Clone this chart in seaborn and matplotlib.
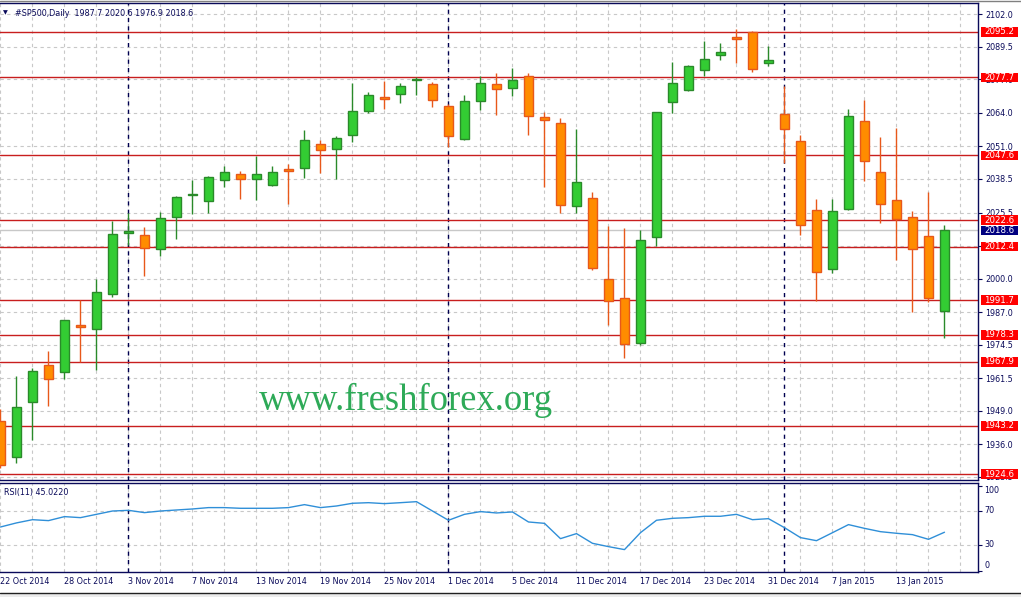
import numpy as np
import pandas as pd
import matplotlib
matplotlib.use('Agg')
import matplotlib.pyplot as plt
import matplotlib.transforms as mtransforms
from matplotlib.patches import Rectangle
from matplotlib.lines import Line2D
import seaborn as sns

# ---------------- data ----------------
symbol = "#SP500,Daily"
opens = [1944.9, 1931.1, 1952.3, 1966.6, 1963.9, 1982.2, 1980.5, 1994.0, 2017.5, 2016.7,
         2011.3, 2023.7, 2032.2, 2030.1, 2038.0, 2040.3, 2038.3, 2036.3, 2042.3, 2042.6,
         2051.9, 2049.9, 2055.3, 2064.8, 2070.1, 2071.2, 2076.8, 2075.1, 2066.5, 2053.8,
         2068.4, 2075.0, 2073.5, 2078.1, 2062.3, 2060.0, 2027.9, 2031.0, 1999.8, 1992.4,
         1975.1, 2016.0, 2068.1, 2072.9, 2080.4, 2086.2, 2093.1, 2095.1, 2083.3, 2063.4,
         2053.0, 2026.4, 2003.6, 2027.0, 2060.7, 2041.0, 2030.2, 2023.7, 2016.3, 1987.7]
highs = [1949.6, 1962.4, 1965.4, 1972.1, 1984.2, 1991.6, 1999.8, 2022.4, 2025.5, 2019.9,
         2025.7, 2031.9, 2038.1, 2039.6, 2043.5, 2041.5, 2047.5, 2043.4, 2044.1, 2057.4,
         2053.5, 2055.1, 2075.5, 2072.0, 2076.3, 2075.6, 2077.7, 2075.8, 2067.4, 2070.9,
         2078.2, 2079.5, 2081.3, 2079.4, 2064.2, 2061.9, 2057.8, 2033.4, 2020.3, 2019.6,
         2018.8, 2064.2, 2083.6, 2082.4, 2091.7, 2090.9, 2096.2, 2095.6, 2089.8, 2074.5,
         2055.4, 2030.7, 2030.7, 2065.6, 2069.0, 2054.7, 2058.3, 2026.1, 2033.4, 2020.6]
lows = [1926.9, 1928.7, 1937.8, 1951.0, 1961.3, 1967.7, 1964.9, 1992.8, 2013.0, 2001.1,
        2008.9, 2015.4, 2025.1, 2025.5, 2035.5, 2030.9, 2030.5, 2035.9, 2028.8, 2039.0,
        2040.8, 2038.6, 2052.9, 2063.9, 2065.5, 2067.9, 2070.9, 2066.4, 2050.9, 2053.4,
        2065.1, 2063.3, 2070.6, 2055.6, 2035.3, 2025.2, 2025.2, 2003.2, 1982.2, 1969.5,
        1974.3, 2012.5, 2064.0, 2072.5, 2078.3, 2084.5, 2083.3, 2079.9, 2082.2, 2044.5,
        2016.8, 1991.5, 2002.3, 2026.6, 2037.8, 2021.6, 2007.3, 1987.1, 1991.1, 1976.9]
closes = [1928.1, 1950.4, 1964.2, 1961.4, 1983.9, 1981.5, 1994.7, 2017.1, 2018.3, 2011.7,
          2023.3, 2031.4, 2032.7, 2039.1, 2041.0, 2038.6, 2040.3, 2041.0, 2041.7, 2053.4,
          2049.5, 2054.2, 2064.6, 2070.8, 2069.5, 2074.4, 2077.1, 2068.8, 2054.9, 2068.4,
          2075.4, 2073.1, 2076.6, 2062.7, 2061.1, 2028.3, 2037.2, 2004.0, 1991.3, 1974.8,
          2014.8, 2064.2, 2075.4, 2082.0, 2084.7, 2087.4, 2092.4, 2081.0, 2084.3, 2057.6,
          2020.6, 2002.5, 2026.0, 2062.7, 2045.3, 2028.7, 2023.1, 2011.3, 1992.4, 2018.6]
rsi = [51.2, 56.0, 59.8, 58.7, 63.4, 62.2, 66.1, 70.0, 70.8, 68.1,
       70.0, 71.2, 72.4, 74.0, 74.0, 73.2, 73.2, 73.2, 74.0, 77.5,
       74.0, 75.9, 79.1, 79.8, 78.7, 79.8, 81.0, 70.0, 59.1, 66.1,
       69.3, 67.7, 68.9, 57.1, 55.5, 37.5, 43.4, 32.0, 28.1, 24.6,
       44.5, 59.1, 61.4, 62.2, 63.8, 63.8, 66.1, 59.8, 61.0, 50.4,
       38.7, 35.1, 44.5, 54.0, 49.6, 45.7, 43.8, 42.2, 36.7, 45.022]
rsi_label = "RSI(11) 45.0220"
date_labels = ['22 Oct 2014', '28 Oct 2014', '3 Nov 2014', '7 Nov 2014', '13 Nov 2014',
               '19 Nov 2014', '25 Nov 2014', '1 Dec 2014', '5 Dec 2014', '11 Dec 2014',
               '17 Dec 2014', '23 Dec 2014', '31 Dec 2014', '7 Jan 2015', '13 Jan 2015']
date_label_idx = list(range(0, 60, 4))
month_start_idx = [8, 28, 49]
levels = [2095.2, 2077.7, 2047.6, 2022.6, 2012.4, 1991.7, 1978.3, 1967.9, 1943.2, 1924.6]
price_ticks = [2102.0, 2089.5, 2077.0, 2064.0, 2051.0, 2038.5, 2025.5, 2012.5,
               2000.0, 1987.0, 1974.5, 1961.5, 1949.0, 1936.0, 1923.5]
rsi_levels = [30, 70]
rsi_ticks = [0, 30, 70, 100]
watermark = "www.freshforex.org"

df = pd.DataFrame({'open': opens, 'high': highs, 'low': lows, 'close': closes, 'rsi': rsi})
df['idx'] = np.arange(len(df))
df['bull'] = df['close'] >= df['open']

# ---------------- style ----------------
sns.set_theme(style='white')
plt.rcParams['font.family'] = ['DejaVu Sans']

NAVY = '#0a0a5a'
GRID = '#c8c8c8'
RED = '#c81e1e'
BULL_FILL, BULL_EDGE = '#33cc33', '#2a8a2a'
BEAR_FILL, BEAR_EDGE = '#ff8c00', '#e8581a'
FS = 5.8

W, H = 1021, 597
fig = plt.figure(figsize=(W / 100, H / 100), dpi=100)
fig.patch.set_facecolor('white')

def fx(px):
    return px / W

def fy(py):
    return 1 - py / H

ax = fig.add_axes([0, fy(480), fx(978), (480 - 3) / H])
ax2 = fig.add_axes([0, fy(571.7), fx(978), (571.7 - 483.3) / H], sharex=ax)

for a in (ax, ax2):
    a.set_facecolor('white')
    for s in ('top', 'right', 'bottom'):
        a.spines[s].set_color(NAVY)
        a.spines[s].set_linewidth(1)
    a.spines['left'].set_visible(False)

ax.set_xlim(-0.03, 978 / 16 - 0.03)
ax.set_ylim(1922.29, 2106.38)
ax2.set_ylim(-1.4, 102.6)

# x ticks / grid
ax.set_xticks(date_label_idx)
ax.set_xticks(np.arange(0, 62, 2), minor=True)
ax.tick_params(axis='x', which='both', labelbottom=False, length=0)
ax2.tick_params(axis='x', which='minor', length=0)
ax2.tick_params(axis='x', which='major', length=3, width=0.8, color=NAVY, pad=0.5,
                labelsize=FS, labelcolor=NAVY, labelbottom=True)
ax2.set_xticklabels(date_labels)
for lab in ax2.get_xticklabels():
    lab.set_ha('left')
for a in (ax, ax2):
    a.grid(axis='x', which='both', color=GRID, linestyle=(0, (3, 3)), linewidth=0.8, zorder=0)
    a.set_axisbelow(True)

# main y ticks on the right
ax.yaxis.tick_right()
ax.set_yticks(price_ticks)
ax.set_yticklabels([f"{v:.1f}" for v in price_ticks])
ax.tick_params(axis='y', which='major', direction='out', length=3, width=0.8, color=NAVY,
               pad=2, labelsize=FS, labelcolor=NAVY)
ax.grid(axis='y', color=GRID, linestyle=(0, (3, 3)), linewidth=0.8)

# rsi y ticks
ax2.yaxis.tick_right()
ax2.set_yticks(rsi_ticks)
ax2.tick_params(axis='y', direction='out', length=3, width=0.8, color=NAVY, labelright=False)
for lv in rsi_levels:
    ax2.axhline(lv, color=GRID, linestyle=(0, (3, 3)), linewidth=0.8, zorder=0.5)
blend2 = mtransforms.blended_transform_factory(ax2.transAxes, ax2.transData)
rsi_label_pos = {100: 94.4, 70: 70.8, 30: 30.8, 0: 6.1}
for v in rsi_ticks:
    ax2.text(984 / 978, rsi_label_pos[v], f"{v}", transform=blend2, ha='left', va='center',
             fontsize=FS, color=NAVY, clip_on=False)

# month separators
for a in (ax, ax2):
    for m in month_start_idx:
        a.axvline(m, color='#000050', linestyle=(0, (3, 3)), linewidth=1, zorder=1)

# watermark
ax.text(405.5 / 978, (480 - 410.5) / 477, watermark, transform=ax.transAxes,
        ha='center', va='baseline', fontsize=26.4, color='#2eaa58',
        family=['Liberation Serif', 'DejaVu Serif'], zorder=1)

# levels and bid line
for lv in levels:
    ax.axhline(lv, color=RED, linewidth=1, zorder=2)
ax.axhline(closes[-1], color='#c8c8c8', linewidth=1, zorder=1.8)

# candles
wick_colors = np.where(df['bull'], BULL_EDGE, BEAR_EDGE)
ax.vlines(df['idx'], df['low'], df['high'], colors=wick_colors, linewidth=1, zorder=3)
body_bottom = np.minimum(df['open'], df['close'])
body_height = np.abs(df['close'] - df['open'])
ax.bar(df['idx'], body_height, bottom=body_bottom, width=0.6,
       color=np.where(df['bull'], BULL_FILL, BEAR_FILL),
       edgecolor=wick_colors, linewidth=1, zorder=4)

# right-side price labels
blend = mtransforms.blended_transform_factory(ax.transAxes, ax.transData)
box_h = 9.4 * (2106.38 - 1922.29) / 477
x0, x1 = 980.7 / 978, 1017.7 / 978

def price_box(val, face):
    ax.add_patch(Rectangle((x0, val - box_h / 2), x1 - x0, box_h, transform=blend,
                           facecolor=face, edgecolor='none', clip_on=False, zorder=6))
    ax.text((x0 + x1) / 2, val, f"{val:.1f}", transform=blend, ha='center', va='center',
            fontsize=6.2, color='white', clip_on=False, zorder=7)

for lv in levels:
    price_box(lv, '#ff0000')
price_box(closes[-1], '#000080')

# RSI line
sns.lineplot(x=df['idx'], y=df['rsi'], ax=ax2, color='#2f8fd8', linewidth=1, zorder=3)
ax2.set_xlabel('')
ax2.set_ylabel('')
ax.set_xlabel('')
ax.set_ylabel('')

# texts
fig.text(fx(3), fy(13), '\u25bc', fontsize=4.5, color=NAVY, va='center', ha='left')
fig.text(fx(15), fy(13),
         f"{symbol}  {opens[-1]:.1f} {highs[-1]:.1f} {lows[-1]:.1f} {closes[-1]:.1f}",
         fontsize=FS, color=NAVY, va='center', ha='left')
fig.text(fx(4), fy(493), rsi_label, fontsize=FS, color=NAVY, va='center', ha='left')

# window frame bits
fig.add_artist(Line2D([0, 1], [fy(0.5), fy(0.5)], color='#808080', linewidth=1))
fig.add_artist(Rectangle((0, 0), 1, fy(592.5), facecolor='#ececec', edgecolor='none'))
fig.add_artist(Line2D([0, 1], [fy(592.5), fy(592.5)], color='#202020', linewidth=1))

fig.savefig('out.png', dpi=100, facecolor='white')
